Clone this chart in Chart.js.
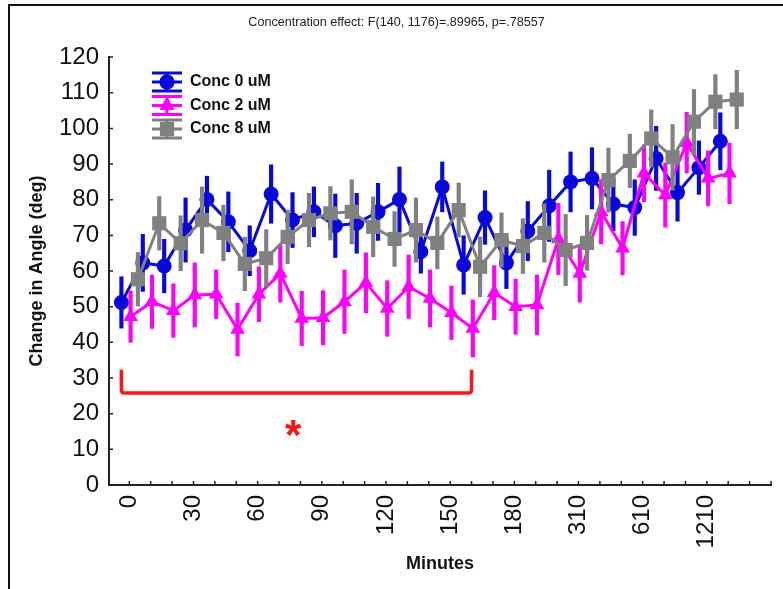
<!DOCTYPE html>
<html>
<head>
<meta charset="utf-8">
<script src="https://cdn.jsdelivr.net/npm/chart.js@4.4.1/dist/chart.umd.min.js"></script>
<style>
html, body { margin: 0; padding: 0; background: #fff; }
#wrap { position: relative; width: 783px; height: 589px; }
#frame { position: absolute; left: 8px; top: 4px; right: 0; bottom: 0; border-top: 2px solid #111; border-left: 2px solid #111; }
canvas { position: absolute; left: 0; top: 0; }
</style>
</head>
<body>
<div id="wrap"><div id="frame"></div><canvas id="chart"></canvas></div>
<script>
// 系列名
const seriesNames = ['Conc 0 uM', 'Conc 2 uM', 'Conc 8 uM'];

// x軸のラベル(3区間ごと)
const xTickIndex = [0, 3, 6, 9, 12, 15, 18, 21, 24, 27];
const xTickLabels = ['0', '30', '60', '90', '120', '150', '180', '310', '610', '1210'];

// 平均値
const conc0 = [51.2, 62.3, 61.4, 71.5, 80.1, 73.8, 65.7, 81.6, 74.3, 76.6, 72.7, 73.4, 76.6, 80.1, 65.4,
               83.6, 61.7, 75.0, 62.3, 71.2, 78.3, 85.0, 86.0, 78.8, 77.8, 91.6, 82.0, 89.0, 96.4];
const conc2 = [47.2, 51.4, 48.9, 53.3, 53.5, 43.6, 53.5, 59.3, 46.7, 46.9, 51.4, 56.7, 49.5, 55.6, 52.3,
               48.3, 43.9, 53.9, 50.0, 50.5, 69.0, 59.3, 76.6, 66.4, 87.4, 81.3, 96.0, 86.0, 87.4];
const conc8 = [57.7, 73.4, 67.8, 74.3, 70.7, 62.0, 63.6, 69.6, 74.3, 76.2, 76.6, 72.4, 69.0, 71.5, 67.9,
               77.1, 61.2, 68.7, 67.0, 70.7, 65.9, 67.9, 85.5, 90.9, 97.2, 91.9, 101.9, 107.5, 108.1];

// エラーバーの幅(±)
const conc0Err = [7.2, 8, 7.5, 9, 6.5, 8.4, 7, 8.2, 7.7, 7, 8.9, 8.4, 8, 9.1, 6,
                  7, 8.2, 7.5, 7.2, 8.3, 10, 8.4, 8.6, 7.5, 7.8, 9, 8, 7.5, 8];
const conc2Err = [7.2, 7.5, 7.5, 9, 6.8, 7.4, 7.7, 8, 7.6, 7.6, 8.9, 8.4, 7.8, 8.9, 8,
                  7.5, 8, 7.6, 7.7, 8.4, 10, 8, 9, 7.5, 8, 9, 8.5, 7.7, 8.5];
const conc8Err = [7.5, 7.5, 7.7, 9.3, 7.8, 7.5, 8, 7.5, 7.5, 7.5, 9, 8.4, 7.7, 9, 7.3,
                  7.6, 8.4, 7.6, 7.7, 8.2, 10, 7.7, 9, 7.5, 8, 9.2, 9, 7.6, 8.2];

// 有意差の範囲(ブラケット)
const bracketRange = [-0.37, 16];

const FONT = '"Liberation Sans", Arial, sans-serif';
const colors = ['#0808dc', '#ff00ff', '#808080'];
const shapes = ['circle', 'triangle', 'rect'];
const radii = [7.5, 8.5, 10];
const offsets = [-0.37, 0.06, 0.4]; // 系列ごとの横ずらし

function toPoints(mean, off) {
    return mean.map((v, i) => ({ x: i + off, y: v }));
}
function toErrBars(mean, err, off) {
    return mean.map((v, i) => ({ x: i + off, y: [v - err[i], v + err[i]] }));
}

const means = [conc0, conc2, conc8];
const errs = [conc0Err, conc2Err, conc8Err];

const datasets = [];
means.forEach((mean, k) => {
    datasets.push({
        type: 'line',
        label: seriesNames[k],
        data: toPoints(mean, offsets[k]),
        borderColor: colors[k],
        backgroundColor: colors[k],
        borderWidth: 3,
        pointStyle: shapes[k],
        pointRadius: radii[k],
        pointBorderWidth: 0,
        tension: 0,
        order: 5 - k * 2
    });
    datasets.push({
        type: 'bar',
        label: seriesNames[k] + ' err',
        data: toErrBars(mean, errs[k], offsets[k]),
        backgroundColor: colors[k],
        borderWidth: 0,
        barThickness: 3.5,
        grouped: false,
        order: 6 - k * 2
    });
});

// 内向きの目盛り・ブラケット・凡例
const extras = {
    id: 'extras',
    afterDatasetsDraw(chart) {
        const { ctx, scales: { x, y }, chartArea } = chart;
        ctx.save();
        // ブラケット
        const x1 = x.getPixelForValue(bracketRange[0]);
        const x2 = x.getPixelForValue(bracketRange[1]);
        const yTop = y.getPixelForValue(32.3);
        const yBot = y.getPixelForValue(25.8);
        ctx.strokeStyle = '#ff1414';
        ctx.lineWidth = 3.5;
        ctx.lineJoin = 'round';
        ctx.beginPath();
        ctx.moveTo(x1, yTop);
        ctx.lineTo(x1, yBot - 3);
        ctx.quadraticCurveTo(x1, yBot, x1 + 3, yBot);
        ctx.lineTo(x2 - 3, yBot);
        ctx.quadraticCurveTo(x2, yBot, x2, yBot - 3);
        ctx.lineTo(x2, yTop);
        ctx.stroke();
        // アスタリスク
        ctx.fillStyle = '#ff1414';
        ctx.font = 'bold 42px ' + FONT;
        ctx.textAlign = 'center';
        ctx.textBaseline = 'alphabetic';
        ctx.fillText('*', x.getPixelForValue(7.66), y.getPixelForValue(16) + 21);

        // 目盛り(内向き)
        ctx.strokeStyle = '#222';
        ctx.lineWidth = 1.5;
        ctx.beginPath();
        for (let v = 0; v <= 120; v += 10) {
            const py = y.getPixelForValue(v);
            ctx.moveTo(chartArea.left, py);
            ctx.lineTo(chartArea.left + 4, py);
        }
        for (let i = 0; i <= 30; i++) {
            const px = x.getPixelForValue(i);
            ctx.moveTo(px, chartArea.bottom);
            ctx.lineTo(px, chartArea.bottom - 4);
        }
        ctx.stroke();

        // 凡例
        seriesNames.forEach((name, k) => {
            const cy = 82 + k * 23.5;
            ctx.strokeStyle = colors[k];
            ctx.lineWidth = 3;
            ctx.beginPath();
            ctx.moveTo(152, cy); ctx.lineTo(182, cy);
            ctx.moveTo(152, cy - 9); ctx.lineTo(182, cy - 9);
            ctx.moveTo(152, cy + 9); ctx.lineTo(182, cy + 9);
            ctx.moveTo(167, cy - 9); ctx.lineTo(167, cy + 9);
            ctx.stroke();
            ctx.fillStyle = colors[k];
            Chart.helpers.drawPoint(ctx, { pointStyle: shapes[k], radius: radii[k], borderWidth: 0 }, 167, cy);
            ctx.fill();
            ctx.fillStyle = '#111';
            ctx.font = 'bold 16px ' + FONT;
            ctx.textAlign = 'left';
            ctx.textBaseline = 'middle';
            ctx.fillText(name, 190, cy);
        });
        ctx.restore();
    }
};

new Chart(document.getElementById('chart'), {
    type: 'line',
    data: { datasets },
    options: {
        responsive: true,
        maintainAspectRatio: false,
        animation: false,
        events: [],
        layout: { padding: { left: 22, right: 12, bottom: 10, top: 0 } },
        plugins: {
            legend: { display: false },
            tooltip: { enabled: false },
            title: {
                display: true,
                text: 'Concentration effect: F(140, 1176)=.89965, p=.78557',
                color: '#222',
                font: { family: FONT, size: 12.6, weight: 'normal' },
                padding: { top: 15, bottom: 27 }
            }
        },
        scales: {
            x: {
                type: 'linear',
                min: -0.95,
                max: 30,
                offset: false,
                grid: { display: false, drawTicks: false, offset: false },
                border: { display: true, color: '#222', width: 2 },
                afterBuildTicks: (scale) => { scale.ticks = xTickIndex.map(v => ({ value: v })); },
                afterFit: (scale) => { scale.height = 94; },
                ticks: {
                    autoSkip: false,
                    minRotation: 90,
                    maxRotation: 90,
                    padding: 10,
                    color: '#111',
                    font: { family: FONT, size: 24 },
                    callback: (value) => {
                        const idx = xTickIndex.indexOf(value);
                        return idx >= 0 ? xTickLabels[idx] : '';
                    }
                },
                title: {
                    display: true,
                    text: 'Minutes',
                    color: '#111',
                    font: { family: FONT, size: 18, weight: 'bold' }
                }
            },
            y: {
                min: 0,
                max: 120,
                grid: { display: false, drawTicks: false },
                border: { display: true, color: '#222', width: 2 },
                afterFit: (scale) => { scale.width = 87; },
                ticks: {
                    stepSize: 10,
                    padding: 10,
                    color: '#111',
                    font: { family: FONT, size: 24 }
                },
                title: {
                    display: true,
                    text: 'Change in Angle (deg)',
                    color: '#111',
                    font: { family: FONT, size: 18, weight: 'bold' }
                }
            }
        }
    },
    plugins: [extras]
});
</script>
</body>
</html>
